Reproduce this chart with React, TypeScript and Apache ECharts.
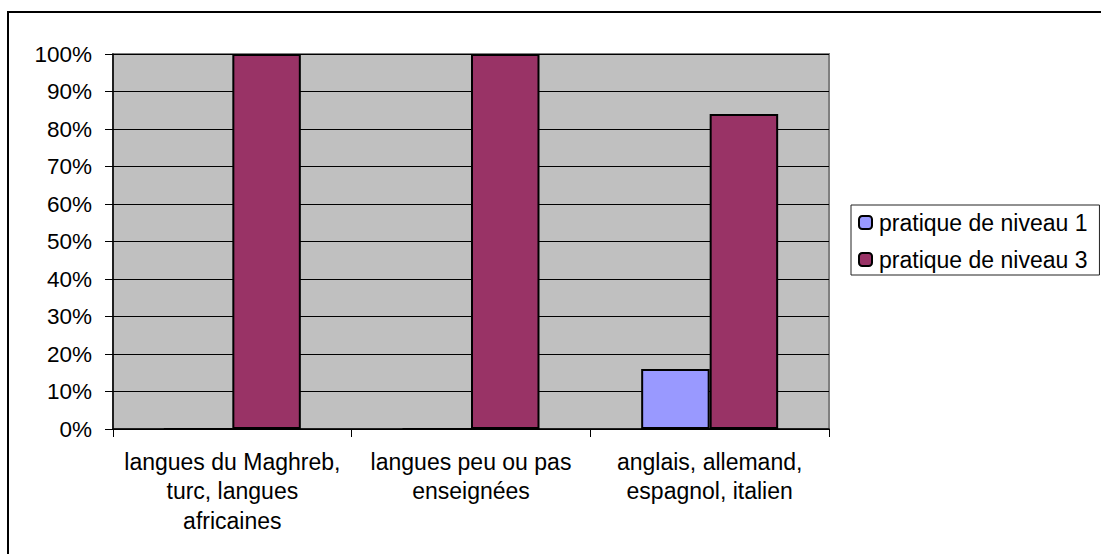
import React, { useEffect, useRef } from "react";
import * as echarts from "echarts";

const categories = [
  "langues du Maghreb,\nturc, langues\nafricaines",
  "langues peu ou pas\nenseignées",
  "anglais, allemand,\nespagnol, italien",
];
const seriesNames = ["pratique de niveau 1", "pratique de niveau 3"];
const niveau1 = [0, 0, 16];
const niveau3 = [100, 100, 84];
const seriesColors = ["#9999FF", "#993366"];

const FONT = "'Liberation Sans', Arial, sans-serif";

export default function App() {
  const ref = useRef<HTMLDivElement>(null);
  useEffect(() => {
    if (!ref.current) return;
    const chart = echarts.init(ref.current, undefined, { renderer: "svg" });
    const values = [niveau1, niveau3];
    chart.setOption({
      animation: false,
      backgroundColor: "#ffffff",
      textStyle: { fontFamily: FONT, color: "#000" },
      grid: {
        left: 113,
        top: 54,
        width: 716,
        height: 375,
        show: true,
        backgroundColor: "#C0C0C0",
        borderColor: "#808080",
        borderWidth: 2,
      },
      legend: {
        orient: "vertical",
        left: 851,
        top: 205,
        padding: [6, 12, 4, 7],
        itemWidth: 13,
        itemHeight: 13,
        itemGap: 14,
        borderColor: "#222",
        borderWidth: 1,
        textStyle: { fontFamily: FONT, fontSize: 23, color: "#000", padding: [0, 0, 0, 2] },
        data: seriesNames,
      },
      xAxis: {
        type: "category",
        data: categories,
        axisLine: { show: true, lineStyle: { color: "#000", width: 1.5 } },
        axisTick: { show: true, length: 8, lineStyle: { color: "#000", width: 1 } },
        axisLabel: {
          fontFamily: FONT,
          fontSize: 23,
          color: "#000",
          lineHeight: 29.5,
          margin: 18,
          interval: 0,
          align: "center",
        },
        splitLine: { show: false },
      },
      yAxis: {
        type: "value",
        min: 0,
        max: 100,
        interval: 10,
        axisLine: { show: true, lineStyle: { color: "#000", width: 1.5 } },
        axisTick: { show: true, length: 8, lineStyle: { color: "#000", width: 1 } },
        axisLabel: {
          fontFamily: FONT,
          fontSize: 22.5,
          color: "#000",
          margin: 21,
          formatter: (v: number) => v + "%",
        },
        splitLine: { show: true, lineStyle: { color: "#000", width: 1 } },
      },
      series: seriesNames.map((name, i) => ({
        name,
        type: "bar",
        data: values[i],
        barGap: "0%",
        barCategoryGap: "42.6%",
        itemStyle: { color: seriesColors[i], borderColor: "#000", borderWidth: 2 },
      })),
      graphic: [
        {
          type: "rect",
          shape: { x: 8, y: 12, width: 1200, height: 700 },
          style: { fill: "none", stroke: "#000", lineWidth: 2 },
          silent: true,
        },
      ],
    });
    return () => chart.dispose();
  }, []);
  return (
    <div
      ref={ref}
      style={{ position: "fixed", left: 0, top: 0, width: 1101, height: 554 }}
    />
  );
}
